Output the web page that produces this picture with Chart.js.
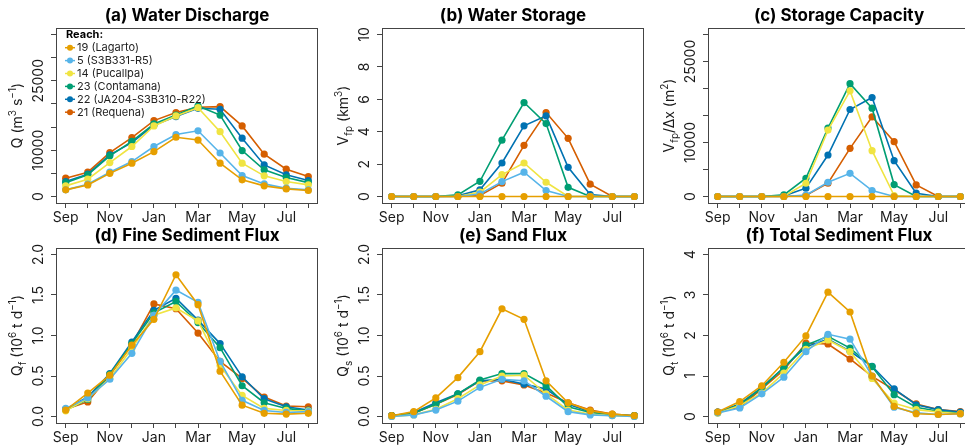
<!DOCTYPE html>
<html><head><meta charset="utf-8">
<script src="https://cdn.jsdelivr.net/npm/chart.js@4.4.1/dist/chart.umd.min.js"></script>
<style>
html,body{margin:0;padding:0;background:#fff;overflow:hidden;width:965px;height:445px;position:relative;}
canvas{position:absolute;}
</style></head><body>
<script>
// ---------- DATA ----------
const months = ['Sep','Oct','Nov','Dec','Jan','Feb','Mar','Apr','May','Jun','Jul','Aug'];
const reaches = ['19 (Lagarto)','5 (S3B331-R5)','14 (Pucallpa)','23 (Contamana)','22 (JA204-S3B310-R22)','21 (Requena)'];

// each array: one row per reach, in the order of `reaches`
const waterDischarge = [
  [1440, 2500, 5000, 7200, 9700, 12800, 12200, 7200, 3600, 2300, 1650, 1300],
  [1440, 2660, 5250, 7550, 10800, 13400, 14200, 9400, 4530, 2730, 1800, 1440],
  [2300, 3740, 7340, 10800, 15250, 17400, 19200, 14000, 7200, 4460, 3240, 2520],
  [3000, 4680, 8780, 11900, 15700, 17600, 19570, 17600, 9930, 5760, 4100, 3000],
  [3240, 4820, 9000, 11650, 15400, 17270, 19060, 18850, 12600, 6830, 4680, 3450],
  [3960, 5250, 9500, 12730, 16400, 18130, 19280, 19420, 15250, 9140, 5900, 4320]
];
const waterStorage = [
  [0,0,0,0,0,0,0,0,0,0,0,0],
  [0,0,0,0,0.16,0.92,1.5,0.37,0,0,0,0],
  [0,0,0,0,0.27,1.35,2.07,0.88,0,0,0,0],
  [0,0,0,0.1,0.94,3.48,5.8,4.5,0.57,0,0,0],
  [0,0,0,0.04,0.41,2.07,4.36,4.98,1.8,0.12,0,0],
  [0,0,0,0,0.06,0.82,3.16,5.18,3.59,0.76,0,0]
];
const storageCapacity = [
  [0,0,0,0,0,0,0,0,0,0,0,0],
  [0,0,0,0,250,2640,4300,1100,0,0,0,0],
  [0,0,0,0,2460,12300,19560,8490,180,0,0,0],
  [0,0,0,300,3380,12670,20900,16360,2210,0,0,0],
  [0,0,0,120,1540,7690,16110,18330,6640,615,0,0],
  [0,0,0,0,180,2460,8920,14760,10150,2150,0,0]
];
const fineSedimentFlux = [
  [0.08,0.29,0.51,0.88,1.2,1.75,1.38,0.56,0.14,0.04,0.03,0.04],
  [0.1,0.23,0.46,0.78,1.25,1.56,1.41,0.68,0.2,0.075,0.05,0.06],
  [0.07,0.22,0.47,0.84,1.25,1.34,1.18,0.63,0.26,0.1,0.075,0.07],
  [0.08,0.21,0.52,0.9,1.28,1.42,1.16,0.85,0.38,0.17,0.1,0.07],
  [0.09,0.24,0.53,0.92,1.31,1.46,1.19,0.9,0.49,0.22,0.12,0.08],
  [0.09,0.18,0.51,0.89,1.39,1.33,1.03,0.68,0.47,0.24,0.13,0.12]
];
const sandFlux = [
  [0.01,0.06,0.23,0.48,0.8,1.33,1.2,0.44,0.17,0.07,0.03,0.01],
  [0,0.02,0.08,0.19,0.36,0.46,0.44,0.25,0.06,0.02,0.01,0],
  [0,0.02,0.09,0.22,0.39,0.5,0.51,0.28,0.08,0.03,0.01,0],
  [0.01,0.04,0.15,0.28,0.45,0.53,0.53,0.38,0.12,0.05,0.02,0.01],
  [0.01,0.05,0.17,0.28,0.44,0.46,0.4,0.34,0.15,0.06,0.02,0.01],
  [0.01,0.04,0.15,0.27,0.44,0.44,0.39,0.29,0.17,0.08,0.03,0.01]
];
const totalSedimentFlux = [
  [0.11,0.37,0.76,1.34,1.99,3.07,2.58,1.0,0.25,0.07,0.05,0.07],
  [0.09,0.21,0.56,0.97,1.6,2.03,1.91,1.0,0.23,0.09,0.05,0.07],
  [0.08,0.27,0.58,1.07,1.66,1.89,1.6,0.94,0.33,0.17,0.11,0.07],
  [0.1,0.29,0.7,1.21,1.76,1.98,1.69,1.23,0.54,0.23,0.13,0.08],
  [0.11,0.31,0.72,1.21,1.72,1.91,1.61,1.24,0.68,0.29,0.17,0.11],
  [0.11,0.23,0.68,1.15,1.81,1.79,1.42,0.99,0.66,0.31,0.17,0.12]
];

// axis ticks (all tick marks) and labelled ticks
const ticksQ = [0,5000,10000,15000,20000,25000,30000,35000];
const labelsQ = [0,10000,25000];
const ticksV = [0,2,4,6,8,10];
const ticksCap = [0,5000,10000,15000,20000,25000,30000];
const labelsCap = [0,10000,25000];
const ticksFlux = [0,0.5,1,1.5,2];
const ticksTotal = [0,1,2,3,4];

// ---------- STYLE ----------
const colors = ['#E69F00','#56B4E9','#F0E442','#009E73','#0072B2','#D55E00'];
const FONT = 'Inter, "Open Sans", sans-serif';
const TXT = '#1a1a1a';
const AXC = '#444';

const SUP='sup', SUB='sub';
const panels = [
  {title:'(a) Water Discharge', data:waterDischarge, min:-1400, max:36400, ticks:ticksQ, labels:labelsQ, fmt:v=>String(v),
   ylab:[['Q (m'],['3',SUP],[' s'],['\u22121',SUP],[')']], col:0, row:0, legend:true},
  {title:'(b) Water Storage', data:waterStorage, min:-0.4, max:10.4, ticks:ticksV, labels:ticksV, fmt:v=>String(v),
   ylab:[['V'],['fp',SUB],[' (km'],['3',SUP],[')']], col:1, row:0},
  {title:'(c) Storage Capacity', data:storageCapacity, min:-1200, max:31200, ticks:ticksCap, labels:labelsCap, fmt:v=>String(v),
   ylab:[['V'],['fp',SUB],['/\u0394x (m'],['2',SUP],[')']], col:2, row:0},
  {title:'(d) Fine Sediment Flux', data:fineSedimentFlux, min:-0.08, max:2.08, ticks:ticksFlux, labels:ticksFlux, fmt:v=>v.toFixed(1),
   ylab:[['Q'],['f',SUB],[' (10'],['6',SUP],[' t d'],['\u22121',SUP],[')']], col:0, row:1},
  {title:'(e) Sand Flux', data:sandFlux, min:-0.08, max:2.08, ticks:ticksFlux, labels:ticksFlux, fmt:v=>v.toFixed(1),
   ylab:[['Q'],['s',SUB],[' (10'],['6',SUP],[' t d'],['\u22121',SUP],[')']], col:1, row:1},
  {title:'(f) Total Sediment Flux', data:totalSedimentFlux, min:-0.16, max:4.16, ticks:ticksTotal, labels:ticksTotal, fmt:v=>String(v),
   ylab:[['Q'],['t',SUB],[' (10'],['6',SUP],[' t d'],['\u22121',SUP],[')']], col:2, row:1}
];

const colX = [56, 382, 708];
const rowY = [28, 248];
const BOXW = 262, BOXH = 175;
const PADL = 56, PADT = 28, PADR = 6, PADB = 24;
const TICK_OFF = 18.5, TITLE_OFF = 39;

function drawRich(ctx, segs, cx, cy, size) {
  const small = Math.round(size*0.72);
  let total = 0;
  const items = segs.map(([t,k]) => {
    ctx.font = (k ? small : size) + 'px ' + FONT;
    const w = ctx.measureText(t).width; total += w; return {t,k,w};
  });
  ctx.save();
  ctx.translate(cx, cy);
  ctx.rotate(-Math.PI/2);
  ctx.textAlign = 'left'; ctx.textBaseline = 'alphabetic';
  ctx.fillStyle = TXT;
  let x = -total/2;
  items.forEach(it => {
    ctx.font = (it.k ? small : size) + 'px ' + FONT;
    const dy = it.k === SUP ? -size*0.42 : (it.k === SUB ? size*0.28 : 0);
    ctx.fillText(it.t, x, size*0.36 + dy);
    x += it.w;
  });
  ctx.restore();
}

function makePlugin(p) {
  return {
    id: 'panelDeco',
    afterDraw(chart) {
      const ctx = chart.ctx, a = chart.chartArea, ys = chart.scales.y;
      ctx.save();
      // box
      ctx.strokeStyle = AXC; ctx.lineWidth = 1;
      ctx.strokeRect(a.left + 0.5, a.top + 0.5, a.right - a.left - 1, a.bottom - a.top);
      // y tick labels (rotated)
      ctx.fillStyle = TXT;
      ctx.font = '14px ' + FONT;
      p.labels.forEach(v => {
        const y = ys.getPixelForValue(v);
        ctx.save();
        ctx.translate(a.left - TICK_OFF, y);
        ctx.rotate(-Math.PI/2);
        ctx.textAlign = 'center'; ctx.textBaseline = 'alphabetic';
        ctx.fillText(p.fmt(v), 0, 14*0.36);
        ctx.restore();
      });
      // axis title
      drawRich(ctx, p.ylab, a.left - TITLE_OFF, (a.top + a.bottom)/2, 14);
      // panel title
      ctx.font = 'bold 17px ' + FONT;
      ctx.fillStyle = '#000';
      ctx.textAlign = 'center'; ctx.textBaseline = 'middle';
      ctx.fillText(p.title, (a.left + a.right)/2, a.top - 12);
      // legend
      if (p.legend) {
        ctx.textAlign = 'left'; ctx.textBaseline = 'middle';
        ctx.font = 'bold 11px ' + FONT;
        ctx.fillStyle = '#000';
        ctx.fillText('Reach:', a.left + 10, a.top + 7);
        ctx.font = '11px ' + FONT;
        chart.data.datasets.forEach((ds, i) => {
          const y = a.top + 19.7 + i*12.9;
          ctx.strokeStyle = ds.borderColor; ctx.lineWidth = 1.5;
          ctx.beginPath(); ctx.moveTo(a.left + 9, y); ctx.lineTo(a.left + 19, y); ctx.stroke();
          ctx.fillStyle = ds.backgroundColor;
          ctx.beginPath(); ctx.arc(a.left + 14, y, 3, 0, Math.PI*2); ctx.fill();
          ctx.fillStyle = '#222';
          ctx.fillText(ds.label, a.left + 21, y);
        });
      }
      ctx.restore();
    }
  };
}

panels.forEach(p => {
  const cv = document.createElement('canvas');
  const W = PADL + BOXW + PADR, H = PADT + BOXH + PADB;
  cv.width = W; cv.height = H;
  cv.style.width = W + 'px'; cv.style.height = H + 'px';
  cv.style.left = (colX[p.col] - PADL) + 'px';
  cv.style.top = (rowY[p.row] - PADT) + 'px';
  document.body.appendChild(cv);

  const datasets = p.data.map((vals, i) => ({
    label: reaches[i],
    data: vals.map((v, j) => ({x: j + 1, y: v})),
    borderColor: colors[i],
    backgroundColor: colors[i],
    pointBackgroundColor: colors[i],
    pointBorderColor: colors[i],
    pointBorderWidth: 0,
    pointRadius: 3.6,
    borderWidth: 1.6,
    tension: 0,
    clip: false
  }));

  new Chart(cv, {
    type: 'line',
    data: { datasets },
    options: {
      responsive: false,
      animation: false,
      events: [],
      layout: { padding: { left: 0, top: PADT, right: PADR, bottom: 0 } },
      plugins: { legend: { display: false }, title: { display: false }, tooltip: { enabled: false } },
      scales: {
        x: {
          type: 'linear', min: 0.56, max: 12.44,
          afterBuildTicks: s => { s.ticks = months.map((m, i) => ({ value: i + 1 })); },
          afterFit: s => { s.height = PADB; s.paddingLeft = 0; s.paddingRight = 0; },
          grid: { drawOnChartArea: false, drawTicks: true, tickLength: 5, color: AXC, tickColor: AXC, tickWidth: 1 },
          border: { display: false },
          ticks: {
            autoSkip: false, maxRotation: 0, minRotation: 0, padding: 1,
            color: TXT, font: { family: FONT, size: 14 },
            callback: (v, i) => (i % 2 === 0 ? months[i] : '')
          }
        },
        y: {
          type: 'linear', min: p.min, max: p.max,
          afterBuildTicks: s => { s.ticks = p.ticks.map(v => ({ value: v })); },
          afterFit: s => { s.width = PADL; s.paddingTop = 0; s.paddingBottom = 0; },
          grid: { drawOnChartArea: false, drawTicks: true, tickLength: 5, color: AXC, tickColor: AXC, tickWidth: 1 },
          border: { display: false },
          ticks: { display: false }
        }
      }
    },
    plugins: [makePlugin(p)]
  });
});
</script>
</body></html>
